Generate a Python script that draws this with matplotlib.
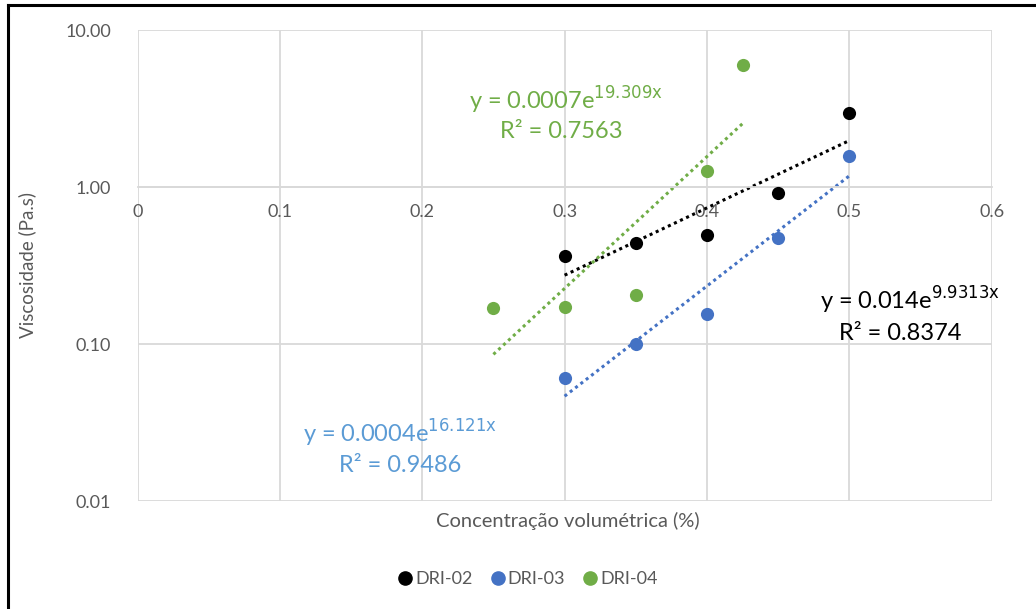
import numpy as np
import matplotlib
matplotlib.use('Agg')
import matplotlib.pyplot as plt
from matplotlib.lines import Line2D

plt.rcParams['font.family'] = ['Lato', 'DejaVu Sans']

# dados
x_02 = [0.30, 0.35, 0.40, 0.45, 0.50]
y_02 = [0.364, 0.442, 0.50, 0.925, 2.97]
x_03 = [0.30, 0.35, 0.40, 0.45, 0.50]
y_03 = [0.0607, 0.101, 0.155, 0.475, 1.59]
x_04 = [0.25, 0.30, 0.35, 0.40, 0.425]
y_04 = [0.170, 0.173, 0.207, 1.27, 6.04]

labels = ['DRI-02', 'DRI-03', 'DRI-04']
eqs = [r'y = 0.014e$^{\mathrm{9.9313x}}$', r'y = 0.0004e$^{\mathrm{16.121x}}$',
       r'y = 0.0007e$^{\mathrm{19.309x}}$']
r2s = ['R² = 0.8374', 'R² = 0.9486', 'R² = 0.7563']

marker_colors = ['#000000', '#4472C4', '#70AD47']
text_colors = ['#000000', '#5B9BD5', '#70AD47']

fig = plt.figure(figsize=(10.36, 6.09), dpi=100)
ax = fig.add_axes([137.5 / 1036, 1 - 501.3 / 609, 854.2 / 1036, 471 / 609])

series = [(x_02, y_02), (x_03, y_03), (x_04, y_04)]
for (xs, ys), c, lab in zip(series, marker_colors, labels):
    xs = np.array(xs)
    ys = np.array(ys)
    # linha de tendência exponencial (ajuste em log)
    b, ln_a = np.polyfit(xs, np.log(ys), 1)
    xt = np.linspace(xs.min(), xs.max(), 50)
    ax.plot(xt, np.exp(ln_a) * np.exp(b * xt), linestyle=(0, (1, 1.2)),
            color=c, lw=2.2, zorder=2)
    ax.scatter(xs, ys, s=90, color=c, label=lab, zorder=3, linewidths=0)

ax.set_yscale('log')
ax.set_xlim(0, 0.6)
ax.set_ylim(0.01, 10)
ax.set_xticks([0, 0.1, 0.2, 0.3, 0.4, 0.5, 0.6])
ax.set_xticklabels(['0', '0.1', '0.2', '0.3', '0.4', '0.5', '0.6'])
ax.set_yticks([0.01, 0.1, 1, 10])
ax.set_yticklabels(['0.01', '0.10', '1.00', '10.00'])
ax.yaxis.set_minor_locator(matplotlib.ticker.NullLocator())
ax.grid(True, color='#d9d9d9', lw=1.3)
ax.set_axisbelow(True)
for s in ['top', 'right', 'left']:
    ax.spines[s].set_visible(False)
ax.spines['bottom'].set_position(('data', 1))
ax.spines['bottom'].set_color('#d9d9d9')
ax.spines['bottom'].set_linewidth(1.3)
ax.tick_params(length=0, labelsize=13, labelcolor='#595959')
ax.tick_params(axis='x', pad=12)
ax.tick_params(axis='y', pad=19)

fig.text(27 / 1036, 1 - 265 / 609, 'Viscosidade (Pa.s)', rotation=90,
         ha='center', va='center', fontsize=13.5, color='#595959')
fig.text(568 / 1036, 1 - 521 / 609, 'Concentração volumétrica (%)',
         ha='center', va='center', fontsize=14.5, color='#595959')

# equações das linhas de tendência (posições em pixels da figura)
eq_pos = [(910, 900, 300, 333), (400, 400, 433, 465), (566, 561, 100, 132)]
for (px1, px2, py1, py2), eq, r2, c in zip(eq_pos, eqs, r2s, text_colors):
    fig.text(px1 / 1036, 1 - py1 / 609, eq, ha='center', va='center',
             fontsize=17, color=c)
    fig.text(px2 / 1036, 1 - py2 / 609, r2, ha='center', va='center',
             fontsize=17, color=c)

handles = [Line2D([], [], marker='o', linestyle='none', color=c, markersize=9.5)
           for c in marker_colors]
fig.legend(handles, labels, loc='center', bbox_to_anchor=(527 / 1036, 1 - 579 / 609),
           ncol=3, frameon=False, fontsize=13, labelcolor='#595959',
           handletextpad=0.05, columnspacing=0.9, handlelength=1.0)

# moldura (apenas topo e esquerda visíveis)
fig.add_artist(Line2D([7.5 / 1036, 1], [1 - 5 / 609, 1 - 5 / 609], color='black', lw=2.2))
fig.add_artist(Line2D([7.5 / 1036, 7.5 / 1036], [0, 1 - 5 / 609], color='black', lw=2.2))

plt.savefig('out.png', dpi=100)
